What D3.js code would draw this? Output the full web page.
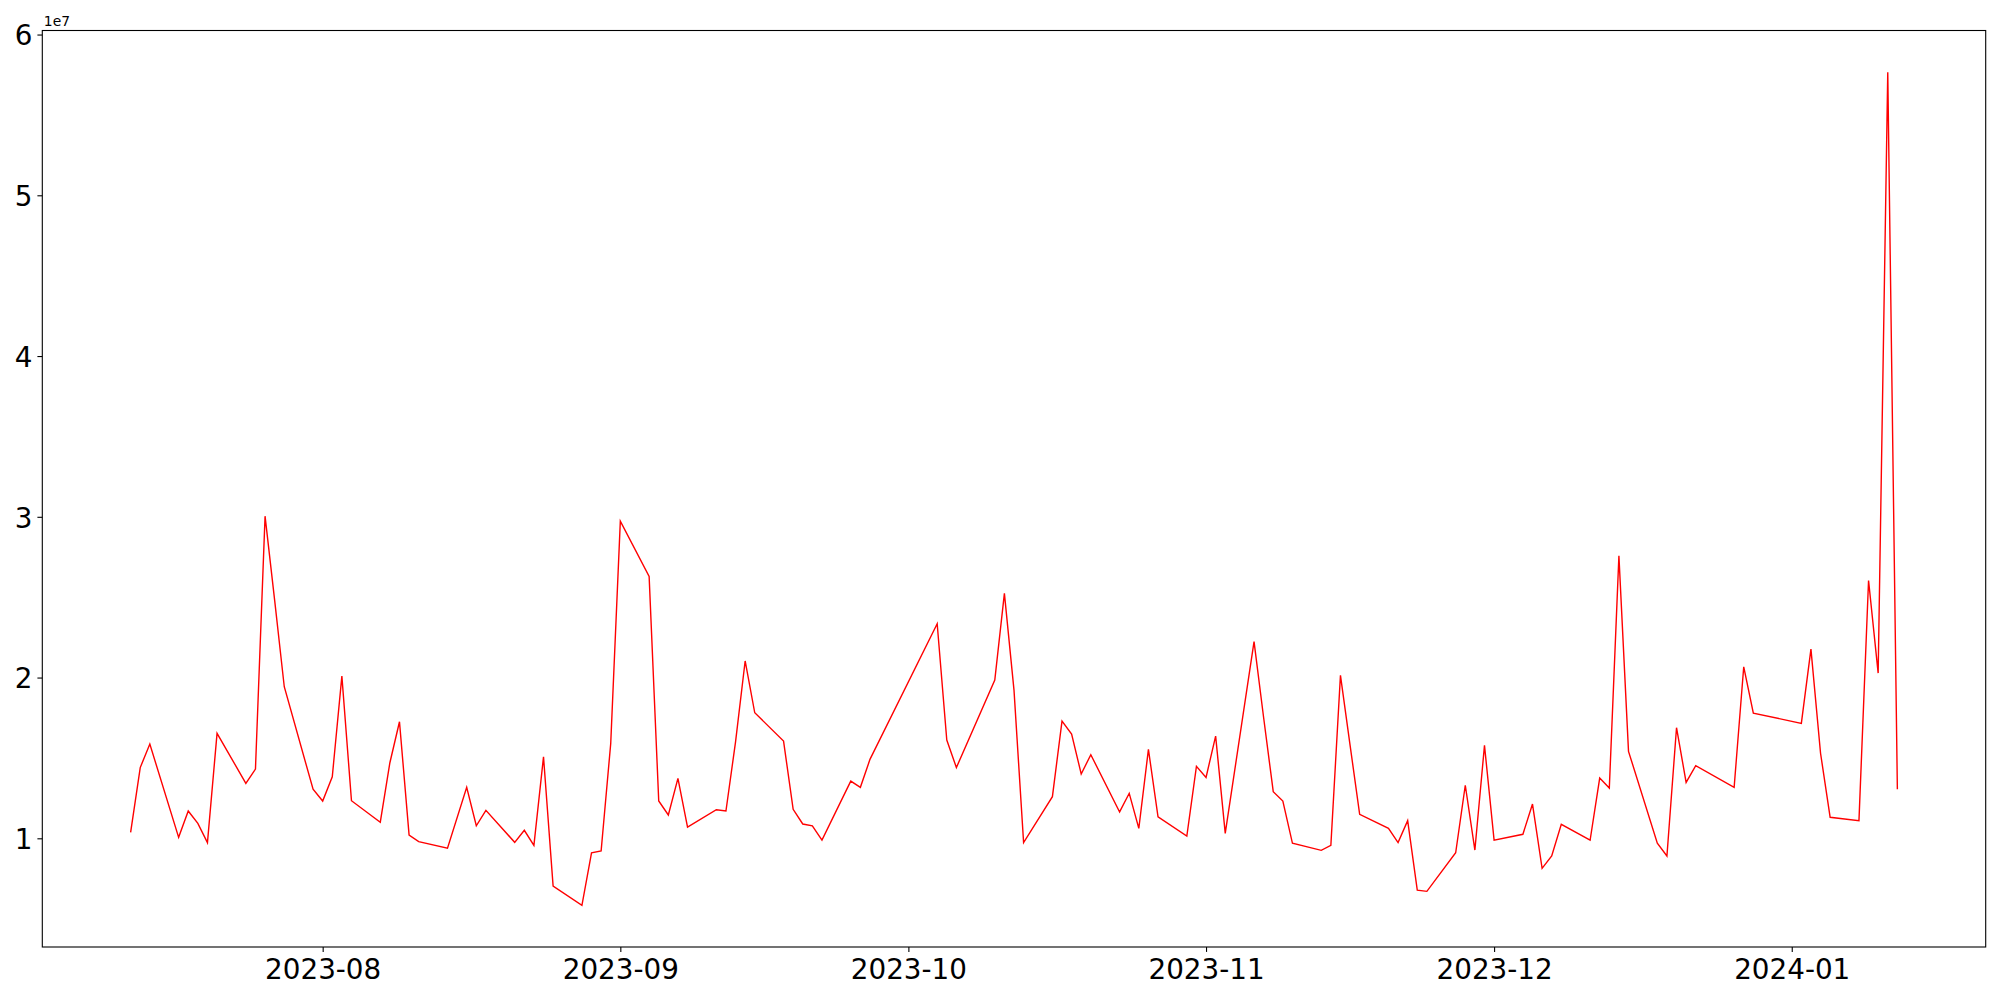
<!DOCTYPE html>
<html>
<head>
<meta charset="utf-8">
<script src="https://cdn.jsdelivr.net/npm/d3@7"></script>
<style>
  html, body { margin: 0; padding: 0; background: #fff; }
  svg { display: block; }
  text { font-family: "DejaVu Sans", sans-serif; fill: #000; }
</style>
</head>
<body>
<svg id="chart" width="2000" height="1000"></svg>
<script>
const dates = [
  "2023-07-12","2023-07-13","2023-07-14","2023-07-17","2023-07-18","2023-07-19","2023-07-20","2023-07-21",
  "2023-07-24","2023-07-25","2023-07-26","2023-07-27","2023-07-28","2023-07-31",
  "2023-08-01","2023-08-02","2023-08-03","2023-08-04","2023-08-07","2023-08-08","2023-08-09","2023-08-10","2023-08-11",
  "2023-08-14","2023-08-16","2023-08-17","2023-08-18","2023-08-21","2023-08-22","2023-08-23","2023-08-24","2023-08-25",
  "2023-08-28","2023-08-29","2023-08-30","2023-08-31","2023-09-01",
  "2023-09-04","2023-09-05","2023-09-06","2023-09-07","2023-09-08","2023-09-11","2023-09-12","2023-09-13","2023-09-14","2023-09-15",
  "2023-09-18","2023-09-19","2023-09-20","2023-09-21","2023-09-22","2023-09-25","2023-09-26","2023-09-27",
  "2023-10-04","2023-10-05","2023-10-06","2023-10-10","2023-10-11","2023-10-12","2023-10-13",
  "2023-10-16","2023-10-17","2023-10-18","2023-10-19","2023-10-20","2023-10-23","2023-10-24","2023-10-25","2023-10-26","2023-10-27",
  "2023-10-30","2023-10-31","2023-11-01","2023-11-02","2023-11-03","2023-11-06","2023-11-07","2023-11-08","2023-11-09","2023-11-10",
  "2023-11-13","2023-11-14","2023-11-15","2023-11-16","2023-11-17","2023-11-20","2023-11-21","2023-11-22","2023-11-23","2023-11-24",
  "2023-11-27","2023-11-28","2023-11-29","2023-11-30","2023-12-01","2023-12-04","2023-12-05","2023-12-06","2023-12-07","2023-12-08",
  "2023-12-11","2023-12-12","2023-12-13","2023-12-14","2023-12-15","2023-12-18","2023-12-19","2023-12-20","2023-12-21","2023-12-22",
  "2023-12-26","2023-12-27","2023-12-28","2024-01-02","2024-01-03","2024-01-04","2024-01-05",
  "2024-01-08","2024-01-09","2024-01-10","2024-01-11","2024-01-12"
];
const values = [
  10370000,14400000,15860000,10060000,11700000,10930000,9730000,16530000,
  13420000,14310000,30040000,24800000,19430000,13050000,
  12320000,13830000,20090000,12340000,11000000,14700000,17250000,10200000,9790000,
  9380000,13170000,10780000,11740000,9750000,10500000,9560000,15070000,7030000,
  5830000,9100000,9210000,15900000,29730000,
  26290000,12320000,11450000,13730000,10700000,11780000,11700000,16000000,21030000,17810000,
  16050000,11800000,10890000,10780000,9890000,13560000,13170000,14910000,
  23350000,16110000,14400000,19840000,25240000,19220000,9730000,
  12590000,17290000,16490000,14000000,15200000,11640000,12800000,10620000,15530000,11340000,
  10140000,14480000,13790000,16360000,10310000,22230000,17500000,12900000,12320000,9690000,
  9250000,9560000,20140000,15800000,11490000,10620000,9730000,11100000,6780000,6700000,
  9100000,13300000,9270000,15780000,9890000,10250000,12130000,8130000,8900000,10870000,
  9880000,13750000,13130000,27570000,15410000,9690000,8900000,16880000,13480000,14520000,
  13170000,20670000,17790000,17150000,21770000,15290000,11310000,
  11100000,26040000,20280000,57660000,13050000
];
const yTickValues = [10000000,20000000,30000000,40000000,50000000,60000000];
const yTickLabels = ["1","2","3","4","5","6"];
const xTickDates = ["2023-08-01","2023-09-01","2023-10-01","2023-11-01","2023-12-01","2024-01-01"];
const xTickLabels = ["2023-08","2023-09","2023-10","2023-11","2023-12","2024-01"];
const offsetLabel = "1e7";

const parse = d3.timeParse("%Y-%m-%d");
const data = dates.map((d, i) => ({ date: parse(d), value: values[i] }));

const svg = d3.select("#chart");
const plotLeft = 42.3, plotRight = 1985.7, plotTop = 30.5, plotBottom = 947;

// matplotlib-like 5% margins
const xExt = d3.extent(data, d => d.date);
const xSpan = xExt[1] - xExt[0];
const yExt = d3.extent(data, d => d.value);
const ySpan = yExt[1] - yExt[0];

const x = d3.scaleTime()
  .domain([new Date(+xExt[0] - 0.05 * xSpan), new Date(+xExt[1] + 0.05 * xSpan)])
  .range([plotLeft, plotRight]);
const y = d3.scaleLinear()
  .domain([yExt[0] - 0.05 * ySpan, yExt[1] + 0.05 * ySpan])
  .range([plotBottom, plotTop]);

// line
const line = d3.line().x(d => x(d.date)).y(d => y(d.value));
svg.append("path")
  .datum(data)
  .attr("fill", "none")
  .attr("stroke", "#ff0000")
  .attr("stroke-width", 1.4)
  .attr("stroke-linejoin", "miter")
  .attr("d", line);

// x axis
const xAxis = d3.axisBottom(x)
  .tickValues(xTickDates.map(parse))
  .tickFormat((d, i) => xTickLabels[i])
  .tickSize(4.9)
  .tickPadding(4.9);
const gx = svg.append("g").attr("transform", `translate(0,${plotBottom})`).call(xAxis);
gx.select(".domain").remove();
gx.selectAll(".tick line").attr("stroke", "#000").attr("stroke-width", 1.1);
gx.selectAll(".tick text")
  .attr("font-size", "27.8px")
  .attr("font-family", "DejaVu Sans")
  .attr("fill", "#000")
  .attr("dy", null)
  .attr("y", 32);

// y axis
const yAxis = d3.axisLeft(y)
  .tickValues(yTickValues)
  .tickFormat((d, i) => yTickLabels[i])
  .tickSize(4.9)
  .tickPadding(4.9);
const gy = svg.append("g").attr("transform", `translate(${plotLeft},0)`).call(yAxis);
gy.select(".domain").remove();
gy.selectAll(".tick line").attr("stroke", "#000").attr("stroke-width", 1.1);
gy.selectAll(".tick text")
  .attr("font-size", "27.8px")
  .attr("font-family", "DejaVu Sans")
  .attr("fill", "#000")
  .attr("dy", null)
  .attr("y", 10.2);

// offset text
svg.append("text")
  .attr("x", plotLeft + 1.5)
  .attr("y", plotTop - 5)
  .attr("font-size", "13.9px")
  .text(offsetLabel);

// frame (spines)
svg.append("rect")
  .attr("x", plotLeft).attr("y", plotTop)
  .attr("width", plotRight - plotLeft).attr("height", plotBottom - plotTop)
  .attr("fill", "none")
  .attr("stroke", "#000")
  .attr("stroke-width", 1.1);
</script>
</body>
</html>
